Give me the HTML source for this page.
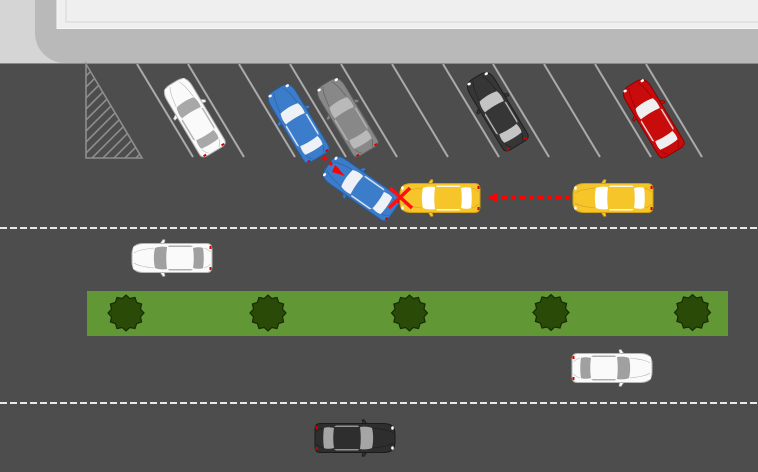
<!DOCTYPE html>
<html><head><meta charset="utf-8"><style>
html,body{margin:0;padding:0;background:#4d4d4d;}
svg{display:block;}
</style></head><body>
<svg width="758" height="472" viewBox="0 0 758 472" xmlns="http://www.w3.org/2000/svg">
<defs>
  <g id="car">
    <path d="M12 -14 L9 -18.5 L7 -18 L8 -14 Z M12 14 L9 18.5 L7 18 L8 14 Z" style="fill:var(--b);stroke:var(--s)" stroke-width="0.7"/>
    <path d="M-35 -14.5 C-39 -14.5 -40 -11.5 -40 -8 L-40 8 C-40 11.5 -39 14.5 -35 14.5 L28 14.5 C37 14.5 40 11 40 4 L40 -4 C40 -11 37 -14.5 28 -14.5 Z" style="fill:var(--b);stroke:var(--s)" stroke-width="1"/>
    <path d="M5 -11 C10 -12 15 -11 17 -10 C18.5 -4 18.5 4 17 10 C15 11 10 12 5 11 C6 4 6 -4 5 -11 Z" style="fill:var(--w)"/>
    <path d="M-21 -10 C-22 -4 -22 4 -21 10 C-25 11 -29 11 -31 10 C-32 4 -32 -4 -31 -10 C-29 -11 -25 -11 -21 -10 Z" style="fill:var(--w)"/>
    <path d="M3 -12.5 L-19 -12.5 L-21 -11 L4 -11 Z M3 12.5 L-19 12.5 L-21 11 L4 11 Z" style="fill:var(--w)" opacity="0.85"/>
    <path d="M18 -10 C26 -9 34 -8 38 -5 M18 10 C26 9 34 8 38 5 M-32 -10 C-35 -9 -37 -8 -38.5 -6 M-32 10 C-35 9 -37 8 -38.5 6" style="stroke:var(--s)" fill="none" stroke-width="0.6"/>
    <ellipse cx="37.5" cy="-10" rx="1.3" ry="1.8" fill="#fff"/>
    <ellipse cx="37.5" cy="10" rx="1.3" ry="1.8" fill="#fff"/>
    <rect x="-39.5" y="-12" width="2" height="3" fill="#d40000"/>
    <rect x="-39.5" y="9" width="2" height="3" fill="#d40000"/>
  </g>
  <path id="bush" d="M18 0 L14.49 3.88 L15.59 9 L10.61 10.61 L9 15.59 L3.88 14.49 L0 18 L-3.88 14.49 L-9 15.59 L-10.61 10.61 L-15.59 9 L-14.49 3.88 L-18 0 L-14.49 -3.88 L-15.59 -9 L-10.61 -10.61 L-9 -15.59 L-3.88 -14.49 L0 -18 L3.88 -14.49 L9 -15.59 L10.61 -10.61 L15.59 -9 L14.49 -3.88 Z" fill="#2a4a08" stroke="#172b03" stroke-width="1.2"/>
  <clipPath id="tri"><polygon points="86,63 86,158 142,158"/></clipPath>
  <marker id="ah" viewBox="0 0 10 10" refX="5" refY="5" markerWidth="3" markerHeight="3" orient="auto">
    <path d="M0 0 L10 5 L0 10 Z" fill="#ff0000"/>
  </marker>
</defs>

<!-- asphalt -->
<rect x="0" y="0" width="758" height="472" fill="#4d4d4d"/>

<!-- building top -->
<rect x="0" y="0" width="758" height="63" fill="#d5d5d6"/>
<path d="M35 0 H758 V63 H65 A30 30 0 0 1 35 33 Z" fill="#b9b9ba"/>
<rect x="57" y="-1" width="702" height="29.5" fill="#efefef" stroke="#f6f6f6" stroke-width="1"/>
<path d="M66 0 V22 H758" fill="none" stroke="#d4d4d4" stroke-width="1"/>
<line x1="0" y1="63.5" x2="758" y2="63.5" stroke="#8a8a8a" stroke-width="1"/>

<!-- hatched triangle -->
<g stroke="#8e8e8e" stroke-width="1.6" fill="none">
  <polygon points="86,64 86,158 142,158"/>
  <g clip-path="url(#tri)">
    <line x1="86" y1="76" x2="186" y2="-24"/>
    <line x1="86" y1="87" x2="186" y2="-13"/>
    <line x1="86" y1="98" x2="186" y2="-2"/>
    <line x1="86" y1="109" x2="186" y2="9"/>
    <line x1="86" y1="120" x2="186" y2="20"/>
    <line x1="86" y1="131" x2="186" y2="31"/>
    <line x1="86" y1="142" x2="186" y2="42"/>
    <line x1="86" y1="153" x2="186" y2="53"/>
    <line x1="86" y1="164" x2="186" y2="64"/>
    <line x1="86" y1="175" x2="186" y2="75"/>
    <line x1="86" y1="186" x2="186" y2="86"/>
    <line x1="86" y1="197" x2="186" y2="97"/>
    <line x1="86" y1="208" x2="186" y2="108"/>
  </g>
</g>

<!-- parking lines -->
<g stroke="#ababab" stroke-width="2">
  <line x1="137" y1="64" x2="193" y2="157"/>
  <line x1="188" y1="64" x2="244" y2="157"/>
  <line x1="239" y1="64" x2="295" y2="157"/>
  <line x1="290" y1="64" x2="346" y2="157"/>
  <line x1="341" y1="64" x2="397" y2="157"/>
  <line x1="392" y1="64" x2="448" y2="157"/>
  <line x1="443" y1="64" x2="499" y2="157"/>
  <line x1="493" y1="64" x2="549" y2="157"/>
  <line x1="544" y1="64" x2="600" y2="157"/>
  <line x1="595" y1="64" x2="651" y2="157"/>
  <line x1="646" y1="64" x2="702" y2="157"/>
</g>

<!-- dashed lane lines -->
<g stroke="#e8e8e8" stroke-width="2" stroke-dasharray="7 3">
  <line x1="0" y1="228" x2="758" y2="228"/>
  <line x1="0" y1="403" x2="758" y2="403"/>
</g>

<!-- median -->
<rect x="87" y="291" width="641" height="45" fill="#629735"/>
<use href="#bush" transform="translate(126 313)"/>
<use href="#bush" transform="translate(268 313)"/>
<use href="#bush" transform="translate(409.5 313)"/>
<use href="#bush" transform="translate(551 312.5)"/>
<use href="#bush" transform="translate(692.5 312.5)"/>

<!-- parked cars -->
<use href="#car" transform="translate(194 117) rotate(-121)" style="--b:#fafafa;--s:#b5b5b5;--w:#a8a8a8"/>
<use href="#car" transform="translate(298 123) rotate(-121)" style="--b:#3c7dcb;--s:#2a5c9c;--w:#eef2f7"/>
<use href="#car" transform="translate(347 117) rotate(-121)" style="--b:#888888;--s:#5b5b5b;--w:#b9b9b9"/>
<use href="#car" transform="translate(497 111) rotate(-121)" style="--b:#363636;--s:#1f1f1f;--w:#c4c4c4"/>
<use href="#car" transform="translate(653 118) rotate(-121)" style="--b:#c80b0b;--s:#8c0000;--w:#efefef"/>

<!-- moving cars -->
<use href="#car" transform="translate(361 188) rotate(-145)" style="--b:#3c7dcb;--s:#2a5c9c;--w:#eef2f7"/>
<use href="#car" transform="translate(440 198) rotate(180)" style="--b:#f6c52a;--s:#d29f15;--w:#ffffff"/>
<use href="#car" transform="translate(613 198) rotate(180)" style="--b:#f6c52a;--s:#d29f15;--w:#ffffff"/>
<use href="#car" transform="translate(172 258) rotate(180)" style="--b:#fafafa;--s:#b5b5b5;--w:#a0a0a0"/>
<use href="#car" transform="translate(612 368)" style="--b:#fafafa;--s:#b5b5b5;--w:#a0a0a0"/>
<use href="#car" transform="translate(355 438)" style="--b:#2e2e2e;--s:#1a1a1a;--w:#a5a5a5"/>

<!-- red arrows -->
<g stroke="#ff0000" stroke-width="3.2" fill="none">
  <line x1="323" y1="157" x2="338" y2="170" stroke-dasharray="4 4"/>
  <line x1="570" y1="197.5" x2="496" y2="197.5" stroke-dasharray="5 4"/>
</g>
<path d="M335 165 L345 176 L332 172 Z" fill="#ff0000"/>
<path d="M487 197.5 L498 192.5 L498 202.5 Z" fill="#ff0000"/>

<!-- red X -->
<g stroke="#ff1010" stroke-width="3.5" stroke-linecap="butt">
  <line x1="390" y1="188" x2="412" y2="208"/>
  <line x1="410" y1="188" x2="389" y2="208"/>
</g>
</svg>
</body></html>
